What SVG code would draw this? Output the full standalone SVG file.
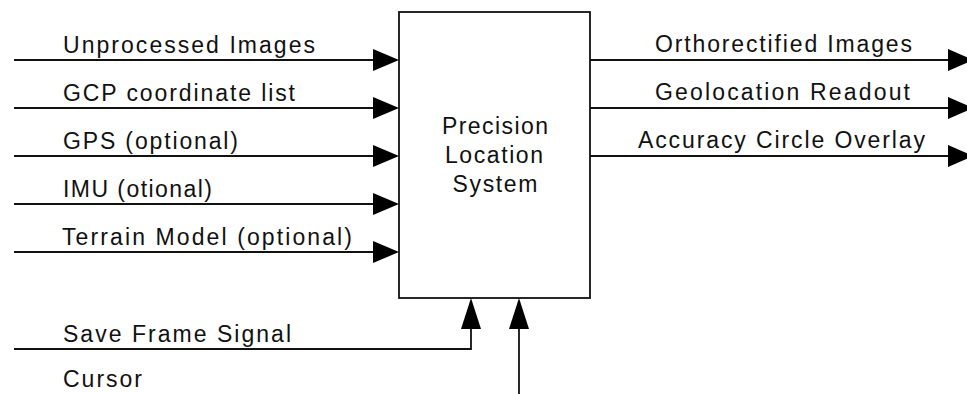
<svg xmlns="http://www.w3.org/2000/svg" width="967" height="394" viewBox="0 0 967 394">
<style>
.t{font-family:"Liberation Sans",Arial,sans-serif;font-size:23px;fill:#111}
.c{text-anchor:middle}
.l{stroke:#111;stroke-width:1.8;fill:none}
.h{fill:#000}
</style>
<rect width="967" height="394" fill="#fff"/>
<g id="system">
<rect x="399" y="12" width="191" height="286" class="l"/>
<text class="t c" x="495" y="134" textLength="106" lengthAdjust="spacing">Precision</text>
<text class="t c" x="494" y="163" textLength="98" lengthAdjust="spacing">Location</text>
<text class="t c" x="495" y="192" textLength="85" lengthAdjust="spacing">System</text>
</g>
<g id="connectors">
<path class="l" d="M14 60H380M14 108H380M14 156H380M14 204H380M14 252H380"/>
<polygon class="h" points="373,49 399,60 373,71"/>
<polygon class="h" points="373,97 399,108 373,119"/>
<polygon class="h" points="373,145 399,156 373,167"/>
<polygon class="h" points="373,193 399,204 373,215"/>
<polygon class="h" points="373,241 399,252 373,263"/>
<path class="l" d="M590 60H955M590 108H955M590 156H955"/>
<polygon class="h" points="948,49 973,60 948,71"/>
<polygon class="h" points="948,97 973,108 948,119"/>
<polygon class="h" points="948,145 973,156 948,167"/>
<path class="l" d="M14 349H471V320"/>
<path class="l" d="M519 394V320"/>
<polygon class="h" points="461,329 471,298 481,329"/>
<polygon class="h" points="509,329 519,298 529,329"/>
</g>
<g id="labels">
<text class="t" x="63" y="53" textLength="252" lengthAdjust="spacing">Unprocessed Images</text>
<text class="t" x="63" y="101" textLength="232" lengthAdjust="spacing">GCP coordinate list</text>
<text class="t" x="63" y="149" textLength="175" lengthAdjust="spacing">GPS (optional)</text>
<text class="t" x="63" y="197" textLength="149" lengthAdjust="spacing">IMU (otional)</text>
<text class="t" x="62" y="245" textLength="290" lengthAdjust="spacing">Terrain Model (optional)</text>
<text class="t" x="63" y="342" textLength="228" lengthAdjust="spacing">Save Frame Signal</text>
<text class="t" x="63" y="387" textLength="79" lengthAdjust="spacing">Cursor</text>
<text class="t" x="655" y="52" textLength="257" lengthAdjust="spacing">Orthorectified Images</text>
<text class="t" x="655" y="100" textLength="255" lengthAdjust="spacing">Geolocation Readout</text>
<text class="t" x="638" y="148" textLength="287" lengthAdjust="spacing">Accuracy Circle Overlay</text>
</g>
</svg>
